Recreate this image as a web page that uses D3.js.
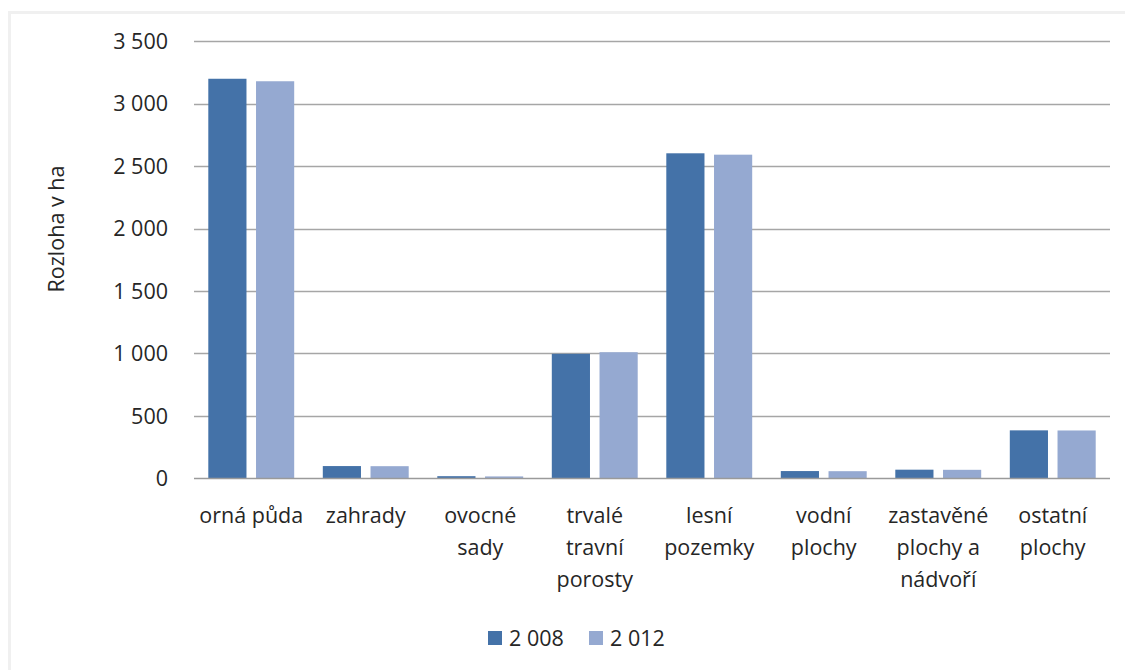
<!DOCTYPE html>
<html lang="cs">
<head>
    <meta charset="UTF-8">
    <title>Rozloha v ha</title>
    <script src="https://cdn.jsdelivr.net/npm/d3@7/dist/d3.min.js"></script>
    <style>
        body { margin: 0; background: #fff; }
        text { font-family: "Open Sans", Lato, sans-serif; fill: #262626; }
    </style>
</head>
<body>
<svg width="1125" height="670"></svg>
<script>
    // data
    const categories = [
        ["orná půda"],
        ["zahrady"],
        ["ovocné", "sady"],
        ["trvalé", "travní", "porosty"],
        ["lesní", "pozemky"],
        ["vodní", "plochy"],
        ["zastavěné", "plochy a", "nádvoří"],
        ["ostatní", "plochy"]
    ];
    const series = ["2 008", "2 012"];
    const values2008 = [3200, 98, 17, 997, 2603, 58, 69, 384];
    const values2012 = [3180, 97, 15, 1010, 2592, 57, 68, 383];
    const yTicks = [0, 500, 1000, 1500, 2000, 2500, 3000, 3500];
    const yTickLabels = ["0", "500", "1 000", "1 500", "2 000", "2 500", "3 000", "3 500"];
    const colors = ["#4472a8", "#95a9d1"];
    const fs = "21.5px";

    let svg = d3.select('svg');

    // faint frame on top / left edge
    svg.append("path")
        .attr("d", "M9.5,670 V12.5 H1125")
        .style("fill", "none")
        .style("stroke", "#f0f0f0")
        .style("stroke-width", "3px");

    let keys = categories.map(c => c.join(" "));
    let data = keys.map((k, i) => ({key: k, lines: categories[i], vals: [values2008[i], values2012[i]]}));

    let scaleX = d3.scaleBand().domain(keys).range([194, 1110]);
    let bw = scaleX.bandwidth();
    let scaleX1 = d3.scaleBand().domain(series).range([14.3, bw - 14.3]).paddingInner(0.2);
    let scaleY = d3.scaleLinear().domain([0, 3500]).range([478.3, 41.3]);

    // gridlines
    svg.append("g")
        .selectAll("line")
        .data(yTicks.slice(1))
        .join("line")
        .attr("x1", 194).attr("x2", 1110)
        .attr("y1", d => Math.round(scaleY(d)) + 0.5)
        .attr("y2", d => Math.round(scaleY(d)) + 0.5)
        .style("stroke", "#a6a6a6")
        .style("stroke-width", "1.3px");

    // y labels
    svg.append("g")
        .selectAll("text")
        .data(yTicks)
        .join("text")
        .attr("x", 168)
        .attr("y", d => scaleY(d))
        .attr("dy", "0.36em")
        .attr("text-anchor", "end")
        .style("font-size", fs)
        .text((d, i) => yTickLabels[i]);

    // bars
    let groups = svg.append("g")
        .selectAll("g")
        .data(data)
        .join("g")
        .attr("transform", d => "translate(" + scaleX(d.key) + ",0)");

    groups.selectAll("rect")
        .data(d => d.vals.map((v, j) => ({s: series[j], v: v, j: j})))
        .join("rect")
        .attr("x", d => scaleX1(d.s))
        .attr("width", scaleX1.bandwidth())
        .attr("y", d => scaleY(d.v))
        .attr("height", d => scaleY(0) - scaleY(d.v))
        .style("fill", d => colors[d.j]);

    // x axis line
    svg.append("line")
        .attr("x1", 194).attr("x2", 1110)
        .attr("y1", 478.5).attr("y2", 478.5)
        .style("stroke", "#9a9a9a")
        .style("stroke-width", "1.5px");

    // category labels
    let lab = svg.append("g")
        .selectAll("text")
        .data(data)
        .join("text")
        .attr("text-anchor", "middle")
        .style("font-size", fs);
    lab.selectAll("tspan")
        .data(d => d.lines.map(l => ({l: l, x: scaleX(d.key) + bw / 2})))
        .join("tspan")
        .attr("x", d => d.x)
        .attr("y", (d, i) => 523 + i * 32)
        .text(d => d.l);

    // y title
    svg.append("text")
        .attr("transform", "translate(64,229) rotate(-90)")
        .attr("text-anchor", "middle")
        .style("font-size", fs)
        .text("Rozloha v ha");

    // legend
    let leg = svg.append("g")
        .selectAll("g")
        .data(series)
        .join("g")
        .attr("transform", (d, i) => "translate(" + (488 + i * 101) + ",631)");
    leg.append("rect")
        .attr("width", 14).attr("height", 14)
        .style("fill", (d, i) => colors[i]);
    leg.append("text")
        .attr("x", 21).attr("y", 7)
        .attr("dy", "0.36em")
        .style("font-size", fs)
        .text(d => d);
</script>
</body>
</html>
